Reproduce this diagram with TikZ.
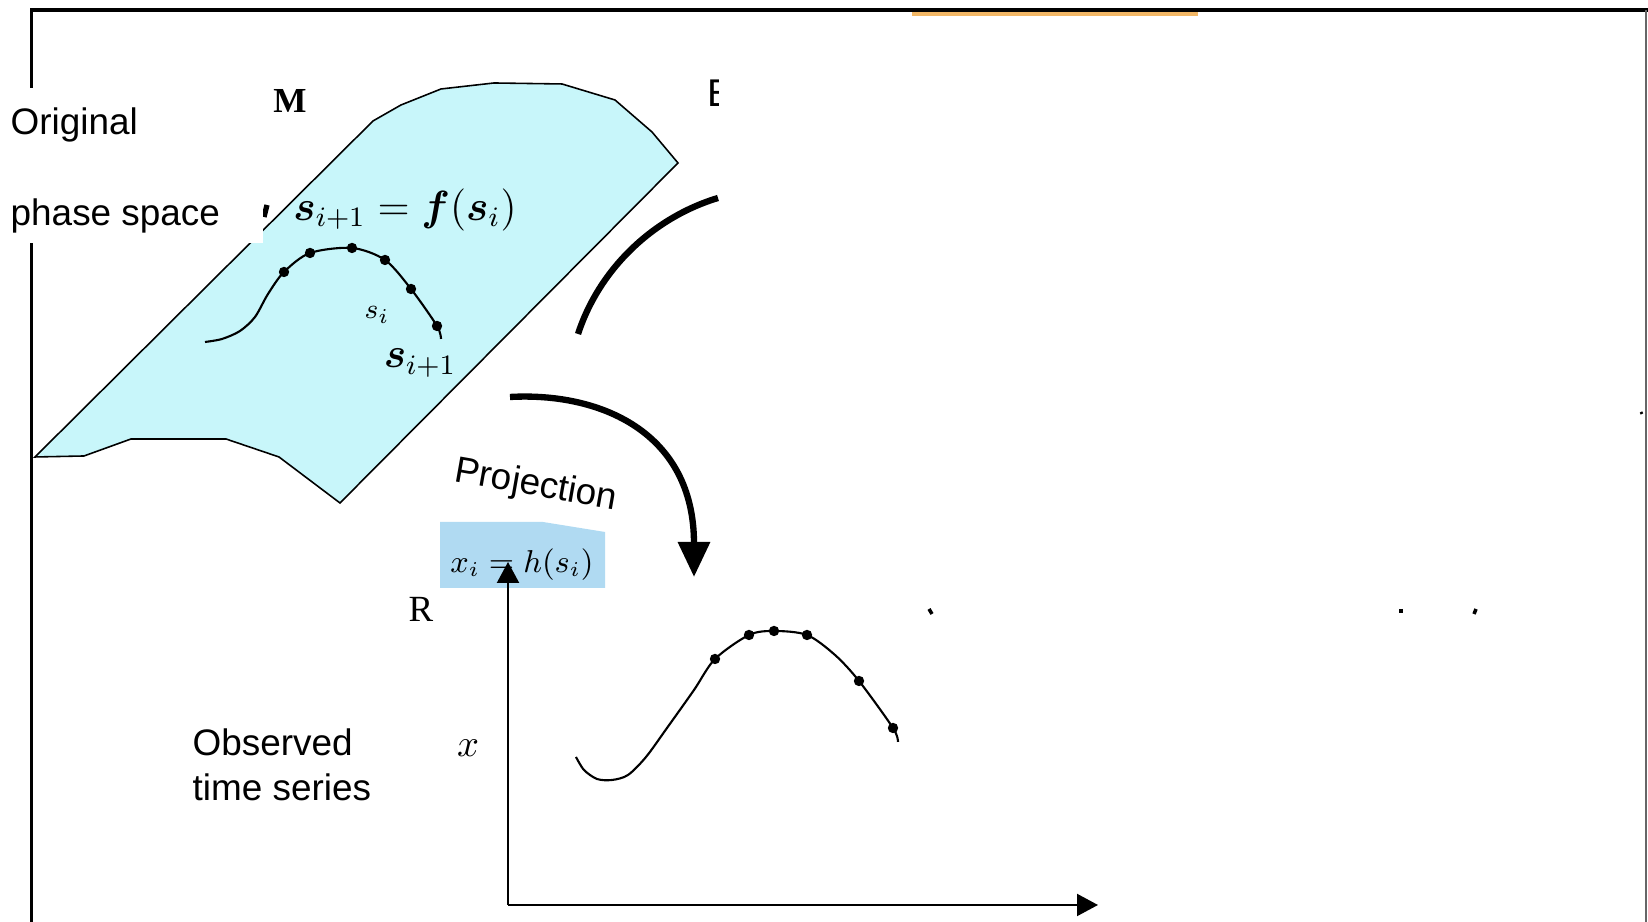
\documentclass[tikz,border=0pt]{standalone}
\usepackage{amsmath}
\usepackage{fontspec}
\usepackage{xcolor}
\usetikzlibrary{arrows.meta}
\newfontfamily\labelfont{Liberation Sans}
\newfontfamily\spacefont{Liberation Serif}
\definecolor{sheet}{HTML}{C8F6FA}
\definecolor{projbg}{HTML}{B0DAF2}
\definecolor{rimorange}{HTML}{F2B766}
\newcommand{\orbitdots}[1]{\foreach \p in {#1} \fill \p circle (0.052);}
\tikzset{caption/.style={font=\labelfont\fontsize{10.5}{12.8}\selectfont,inner sep=0pt},
  spacename/.style={font=\spacefont\fontsize{10.3}{12}\selectfont,inner sep=0pt},
  orbit/.style={line width=0.6pt}, bigarc/.style={line width=1.8pt},
  axis/.style={line width=0.6pt,-{Triangle[length=2.1mm,width=2.2mm]}}}

\begin{document}
\begin{tikzpicture}
\useasboundingbox (0,0) rectangle (16.48,9.22);
% frame
\draw[rimorange,line width=1pt] (9.12,9.08) -- (11.98,9.08);
\draw[line width=1.1pt] (0.315,0) -- (0.315,9.12) -- (16.48,9.12);
\draw[black!60,line width=0.4pt] (16.46,9.12) -- (16.46,0);
% phase space sheet
\draw[fill=sheet,line width=0.45pt] (0.35,4.65) -- (0.84,4.66) -- (1.31,4.83) -- (2.26,4.83) -- (2.79,4.65) -- (3.40,4.19) -- (6.78,7.59)
  -- (6.52,7.90) -- (6.15,8.22) -- (5.62,8.38) -- (4.94,8.39) -- (4.41,8.33) -- (4.01,8.17) -- (3.73,8.01) -- cycle;
\draw[orbit] plot[smooth] coordinates {(2.05,5.80) (2.22,5.83) (2.40,5.91) (2.55,6.05) (2.68,6.28) (2.84,6.50) (3.10,6.69) (3.52,6.74) (3.85,6.62) (4.11,6.33) (4.37,5.96) (4.41,5.83)};
\orbitdots{(2.84,6.50),(3.10,6.69),(3.52,6.74),(3.85,6.62),(4.11,6.33),(4.37,5.96)}
\draw[line width=1.5pt] (2.67,7.17) -- (2.64,7.05);
\fill[white] (0,6.79) rectangle (2.63,8.34);
\node[caption,anchor=west] (orig) at (0.10,7.97) {Original};
\node[caption,anchor=west] (phase) at (0.10,7.06) {phase space};
\node[spacename,font=\spacefont\bfseries\fontsize{10}{12}\selectfont] (mlab) at (2.90,8.21) {M};
\node[font=\fontsize{11.5}{13}\selectfont] (maplab) at (4.05,7.12) {$\boldsymbol{s}_{i+1} = \boldsymbol{f}(\boldsymbol{s}_i)$};
\node[font=\fontsize{8}{9}\selectfont] (silab) at (3.77,6.07) {$s_i$};
\node[font=\fontsize{11.5}{12}\selectfont] (snext) at (4.20,5.59) {$\boldsymbol{s}_{i+1}$};
\begin{scope}
\clip (7.00,7.95) rectangle (7.18,8.55);
\node[caption,font=\labelfont\fontsize{11}{12}\selectfont,anchor=west] (efrag) at (7.07,8.29) {E};
\end{scope}
% arcs
\draw[bigarc] (5.78,5.88) .. controls (6.0,6.55) and (6.55,7.05) .. (7.18,7.24);
\coordinate (pstart) at (5.10,5.25); \coordinate (ptip) at (6.94,3.45);
\draw[bigarc,-{Triangle[length=3.5mm,width=3.1mm]}] (pstart) .. controls (6.0,5.30) and (6.94,4.9) .. (ptip);
\node[caption,rotate=-10] (proj) at (5.36,4.36) {Projection};
% observation
\fill[projbg] (4.40,4.00) -- (5.43,4.00) -- (6.05,3.90) -- (6.05,3.34) -- (4.40,3.34) -- cycle;
\node[font=\fontsize{9}{10}\selectfont] (hlab) at (5.22,3.57) {$x_i = h(s_i)$};
\coordinate (O) at (5.08,0.17); \coordinate (ytop) at (5.08,3.60); \coordinate (xend) at (10.98,0.17);
\draw[axis] (O) -- (ytop); \draw[axis] (O) -- (xend);
\node[spacename,font=\spacefont\fontsize{10.5}{12}\selectfont] (rlab) at (4.21,3.13) {R};
\node[font=\fontsize{11}{12}\selectfont] (xlab) at (4.68,1.74) {$x$};
\node[caption,anchor=west,align=left] (obs) at (1.92,1.57) {Observed\\time series};
\draw[orbit] plot[smooth] coordinates {(5.76,1.65) (5.84,1.52) (5.97,1.43) (6.12,1.42) (6.28,1.47) (6.46,1.65) (6.67,1.94) (6.94,2.32) (7.15,2.63) (7.49,2.87) (7.74,2.91) (8.07,2.87) (8.35,2.67) (8.59,2.41) (8.93,1.94) (8.98,1.80)};
\orbitdots{(7.15,2.63),(7.49,2.87),(7.74,2.91),(8.07,2.87),(8.59,2.41),(8.93,1.94)}
% leftover marks
\draw[line width=1pt] (9.29,3.13) -- (9.32,3.08); \draw[line width=1pt] (14.01,3.13) -- (14.01,3.09);
\draw[line width=1pt] (14.76,3.13) -- (14.74,3.08); \draw[line width=0.8pt] (16.41,5.10) -- (16.42,5.08);
\end{tikzpicture}
\end{document}
